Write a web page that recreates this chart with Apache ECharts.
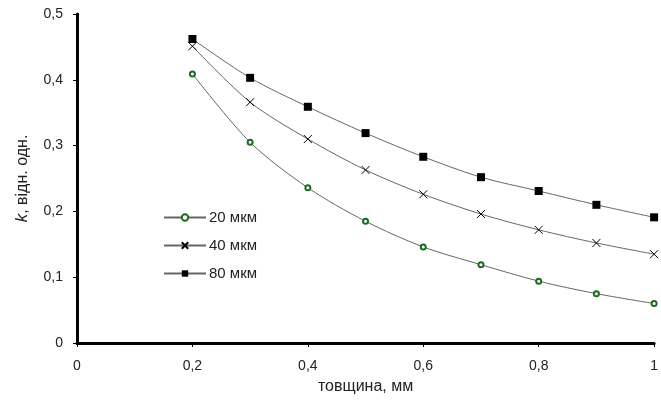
<!DOCTYPE html>
<html>
<head>
<meta charset="utf-8">
<script src="https://cdn.jsdelivr.net/npm/echarts@6/dist/echarts.min.js"></script>
<style>html,body{margin:0;padding:0;background:#fff}#c{width:661px;height:404px}</style>
</head>
<body>
<div id="c"></div>
<script>
var thickness = [0.2, 0.3, 0.4, 0.5, 0.6, 0.7, 0.8, 0.9, 1.0];
var k20 = [0.409, 0.305, 0.236, 0.185, 0.146, 0.119, 0.094, 0.075, 0.060];
var k40 = [0.451, 0.366, 0.310, 0.263, 0.226, 0.196, 0.172, 0.152, 0.135];
var k80 = [0.462, 0.403, 0.359, 0.319, 0.283, 0.252, 0.231, 0.210, 0.191];
var seriesNames = ['20 мкм', '40 мкм', '80 мкм'];
var xTicks = [0, 0.2, 0.4, 0.6, 0.8, 1];
var yTicks = [0, 0.1, 0.2, 0.3, 0.4, 0.5];

function pairs(ys) { return thickness.map(function (x, i) { return [x, ys[i]]; }); }
function fmt(v) { return String(Math.round(v * 10) / 10).replace('.', ','); }

var chart = echarts.init(document.getElementById('c'), null, {renderer: 'canvas'});
var font = 'Liberation Sans, Arial, sans-serif';
var lineCol = '#666';
chart.setOption({
  backgroundColor: '#fff',
  animation: false,
  textStyle: {fontFamily: font},
  grid: {left: 77, right: -1, top: 14, bottom: 61, containLabel: false},
  legend: {
    orient: 'vertical', left: 158, top: 205, itemWidth: 42, itemHeight: 8, itemGap: 13,
    textStyle: {fontSize: 15, color: '#222', fontFamily: font, padding: [0, 0, 0, -2]},
    data: seriesNames
  },
  xAxis: {
    type: 'value', min: xTicks[0], max: xTicks[xTicks.length - 1], interval: 0.2,
    name: 'товщина, мм', nameLocation: 'middle', nameGap: 36,
    nameTextStyle: {fontSize: 16, color: '#222'},
    axisLine: {lineStyle: {color: '#000', width: 3}},
    axisTick: {show: true, length: 4, lineStyle: {color: '#000', width: 1}},
    axisLabel: {fontSize: 14, color: '#222', margin: 16, formatter: fmt, hideOverlap: false},
    splitLine: {show: false}
  },
  yAxis: {
    type: 'value', min: yTicks[0], max: yTicks[yTicks.length - 1], interval: 0.1,
    name: '{i|k}, відн. одн.', nameLocation: 'middle', nameGap: 46,
    nameTextStyle: {fontSize: 16, color: '#222', rich: {i: {fontStyle: 'italic', fontSize: 17, color: '#222'}}},
    axisLine: {show: true, lineStyle: {color: '#000', width: 3}},
    axisTick: {show: true, length: 4, lineStyle: {color: '#000', width: 1}},
    axisLabel: {fontSize: 14, color: '#222', margin: 14, formatter: fmt},
    splitLine: {show: false}
  },
  series: [
    {
      name: seriesNames[0], type: 'line', smooth: 0.3, data: pairs(k20),
      symbol: 'emptyCircle', symbolSize: 5,
      lineStyle: {color: lineCol, width: 1},
      itemStyle: {color: '#1d6b1d', borderWidth: 1}
    },
    {
      name: seriesNames[1], type: 'line', smooth: 0.3, data: pairs(k40),
      symbol: 'path://M0,0L10,10M10,0L0,10', symbolSize: 8,
      lineStyle: {color: lineCol, width: 1},
      itemStyle: {color: '#000', borderColor: '#000', borderWidth: 1}
    },
    {
      name: seriesNames[2], type: 'line', smooth: 0.3, data: pairs(k80),
      symbol: 'rect', symbolSize: 8,
      lineStyle: {color: lineCol, width: 1},
      itemStyle: {color: '#000'}
    }
  ]
});
</script>
</body>
</html>
